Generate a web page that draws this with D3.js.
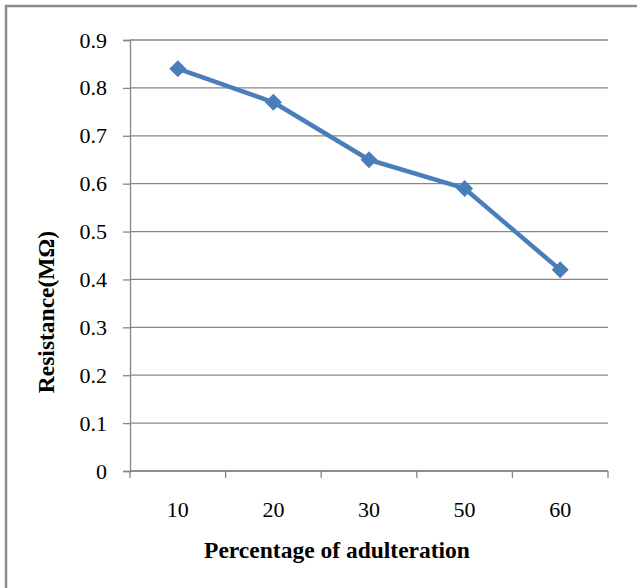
<!DOCTYPE html>
<html><head><meta charset="utf-8">
<script src="https://cdn.jsdelivr.net/npm/d3@7"></script>
<style>body{margin:0;background:#fff}svg{display:block}</style>
</head><body>
<script>
const categories = ["10","20","30","50","60"];
const resistance = [0.84,0.77,0.65,0.59,0.42];
const yTicks = [0,0.1,0.2,0.3,0.4,0.5,0.6,0.7,0.8,0.9];
const xTitle = "Percentage of adulteration";
const yTitle = "Resistance(MΩ)";

(function(){
const W=637,H=588;
const svg=d3.select("body").append("svg").attr("width",W).attr("height",H);
svg.append("rect").attr("width",W).attr("height",H).attr("fill","#fff");
svg.append("path").attr("d","M6,588 V6 H637").attr("fill","none").attr("stroke","#8c8c8c").attr("stroke-width",2.5);

const pl=130,pr=608,pt=40,pb=471;
const x=d3.scaleBand().domain(categories).range([pl,pr]);
const y=d3.scaleLinear().domain([0,0.9]).range([pb,pt]);
const font="'Liberation Serif','Times New Roman',serif";

svg.append("g").selectAll("line").data(yTicks).join("line")
  .attr("x1",pl).attr("x2",pr).attr("y1",d=>y(d)).attr("y2",d=>y(d))
  .attr("stroke","#868686").attr("stroke-width",1.3);

const ya=svg.append("g").attr("transform",`translate(${pl},0)`)
  .call(d3.axisLeft(y).tickValues(yTicks).tickSize(7).tickPadding(16).tickFormat(d=>d===0?"0":d3.format(".1f")(d)));
ya.select(".domain").attr("stroke","#868686").attr("stroke-width",1.3);
ya.selectAll(".tick line").attr("stroke","#868686").attr("stroke-width",1.3);
ya.selectAll("text").attr("font-family",font).attr("font-size",22).attr("fill","#000");

const xa=svg.append("g").attr("transform",`translate(0,${pb})`)
  .call(d3.axisBottom(x).tickSize(0).tickPadding(0));
xa.select(".domain").attr("stroke","#868686").attr("stroke-width",1.3).attr("d",`M${pl},0H${pr}`);
xa.selectAll(".tick text").attr("font-family",font).attr("font-size",22).attr("fill","#000").attr("dy",null).attr("y",46);
const bounds=categories.map(c=>x(c)).concat([x(categories[categories.length-1])+x.bandwidth()]);
xa.append("g").selectAll("line").data(bounds).join("line")
  .attr("x1",d=>d).attr("x2",d=>d).attr("y1",0).attr("y2",7)
  .attr("stroke","#868686").attr("stroke-width",1.3);

const cx=(d,i)=>x(categories[i])+x.bandwidth()/2;
svg.append("path").datum(resistance)
  .attr("d",d3.line().x(cx).y(d=>y(d)))
  .attr("fill","none").attr("stroke","#4a7ebb").attr("stroke-width",4.5).attr("stroke-linejoin","round");
svg.append("g").selectAll("path").data(resistance).join("path")
  .attr("transform",(d,i)=>`translate(${cx(d,i)},${y(d)})`)
  .attr("d","M0,-8.5L8.5,0L0,8.5L-8.5,0Z").attr("fill","#4a7ebb");

svg.append("text").attr("x",337).attr("y",558).attr("text-anchor","middle")
  .attr("font-family",font).attr("font-weight","bold").attr("font-size",23.5).text(xTitle);
svg.append("text").attr("transform","translate(54,312) rotate(-90)").attr("text-anchor","middle")
  .attr("font-family",font).attr("font-weight","bold").attr("font-size",23.5).text(yTitle);
})();
</script>
</body></html>
